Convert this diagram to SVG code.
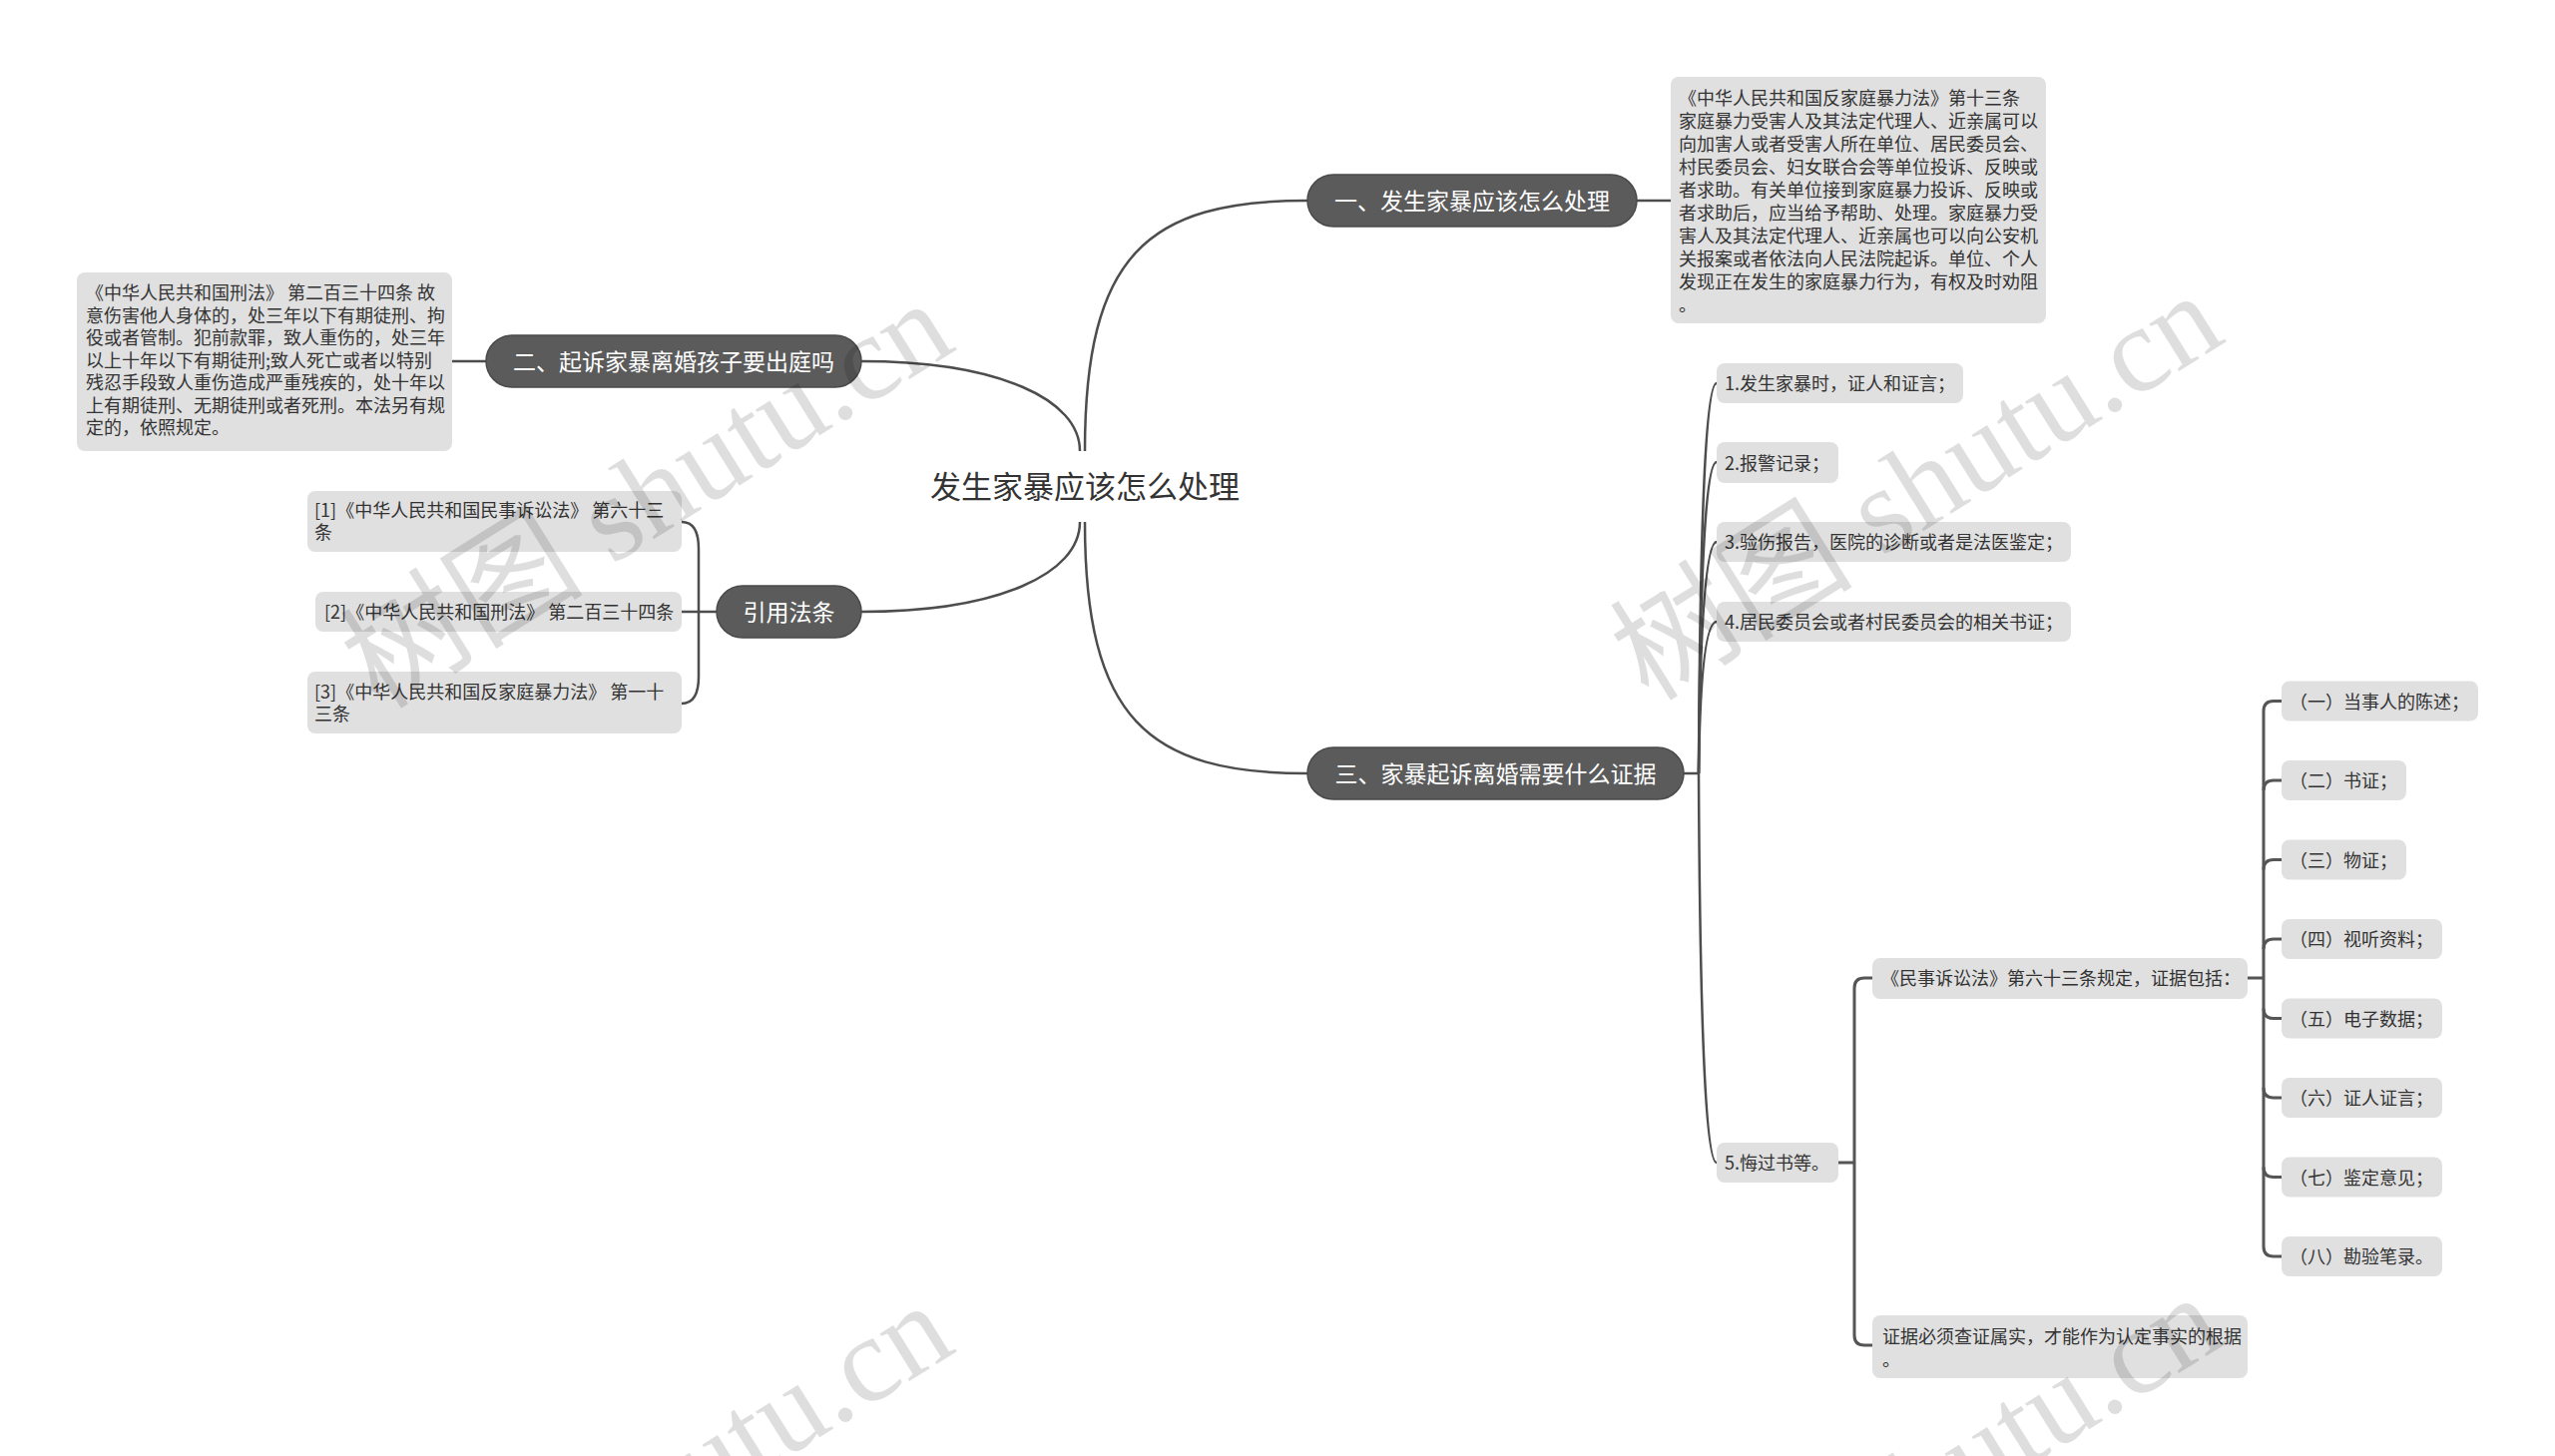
<svg xmlns="http://www.w3.org/2000/svg" width="2560" height="1459" viewBox="0 0 2560 1459">
<style>
text{font-family:"Noto Sans CJK SC","Liberation Sans",sans-serif}
.pill{fill:#5b5b5b;stroke:#4a4a4a;stroke-width:1.5}
.pt{fill:#ffffff;font-size:23px;text-anchor:middle}
.box{fill:#e0e0e0}
.bt{fill:#333333;font-size:18px}
.title{fill:#333333;font-size:31px;text-anchor:middle}
.c{fill:none;stroke:#4d4d4d;stroke-width:2.5}
.b{fill:none;stroke:#555555;stroke-width:3}
.wm{font-family:"Liberation Serif","Noto Sans CJK SC",serif;font-size:122px;fill:#000000;fill-opacity:0.13}
</style>
<rect width="2560" height="1459" fill="#ffffff"/>
<g id="connectors">
<path class="c" d="M1087 452 C1087 255 1150 201 1310 201"/>
<path class="c" d="M1082 452 C1082 400 1000 362 863 362"/>
<path class="c" d="M1082 523 C1082 575 1000 613 863 613"/>
<path class="c" d="M1087 523 C1087 720 1150 775 1310 775"/>
<path class="c" d="M1640 201 L1674 201"/>
<path class="c" d="M487 362 L453 362"/>
<path class="c" d="M1687 775 L1702 775"/>
<path class="c" d="M718 613 L683 613"/>
<path class="c" stroke-width="2" d="M683 523 Q700 523 700 550 L700 678 Q700 705 683 705"/>
<path class="c" d="M1702 775 Q1704 384 1720 384"/>
<path class="c" d="M1702 775 Q1704 463 1720 463"/>
<path class="c" d="M1702 775 Q1704 543 1720 543"/>
<path class="c" d="M1702 775 Q1704 623 1720 623"/>
<path class="c" d="M1702 775 Q1704 1165 1720 1165"/>
<path class="b" d="M1842 1165 L1858 1165"/>
<path class="b" d="M1876 980 L1868 980 Q1858 980 1858 990 L1858 1338 Q1858 1348 1868 1348 L1876 1348"/>
<path class="b" d="M2252 980 L2268 980"/>
<path class="b" d="M2286 702.5 L2278 702.5 Q2268 702.5 2268 712.5 L2268 1249 Q2268 1259 2278 1259 L2286 1259"/>
<path class="b" d="M2268 792 Q2268 782 2278 782 L2286 782"/>
<path class="b" d="M2268 871.5 Q2268 861.5 2278 861.5 L2286 861.5"/>
<path class="b" d="M2268 951 Q2268 941 2278 941 L2286 941"/>
<path class="b" d="M2268 1010.5 Q2268 1020.5 2278 1020.5 L2286 1020.5"/>
<path class="b" d="M2268 1090 Q2268 1100 2278 1100 L2286 1100"/>
<path class="b" d="M2268 1169.5 Q2268 1179.5 2278 1179.5 L2286 1179.5"/>
</g>
<g id="root"><text class="title" x="1087" y="499">发生家暴应该怎么处理</text></g>
<g id="n1"><rect class="pill" x="1310" y="175" width="330" height="52" rx="26"/><text class="pt" x="1475" y="209.5">一、发生家暴应该怎么处理</text></g>
<g id="n1-text"><rect class="box" x="1674" y="77" width="376" height="247" rx="8"/>
<text class="bt" x="1682">
<tspan x="1682" y="105">《中华人民共和国反家庭暴力法》第十三条</tspan>
<tspan x="1682" y="128">家庭暴力受害人及其法定代理人、近亲属可以</tspan>
<tspan x="1682" y="151">向加害人或者受害人所在单位、居民委员会、</tspan>
<tspan x="1682" y="174">村民委员会、妇女联合会等单位投诉、反映或</tspan>
<tspan x="1682" y="197">者求助。有关单位接到家庭暴力投诉、反映或</tspan>
<tspan x="1682" y="220">者求助后，应当给予帮助、处理。家庭暴力受</tspan>
<tspan x="1682" y="243">害人及其法定代理人、近亲属也可以向公安机</tspan>
<tspan x="1682" y="266">关报案或者依法向人民法院起诉。单位、个人</tspan>
<tspan x="1682" y="289">发现正在发生的家庭暴力行为，有权及时劝阻</tspan>
<tspan x="1682" y="312">。</tspan>
</text></g>
<g id="n2"><rect class="pill" x="487" y="336" width="376" height="52" rx="26"/><text class="pt" x="675" y="370.5">二、起诉家暴离婚孩子要出庭吗</text></g>
<g id="n2-text"><rect class="box" x="77" y="273" width="376" height="179" rx="8"/>
<text class="bt">
<tspan x="86" y="300">《中华人民共和国刑法》 第二百三十四条 故</tspan>
<tspan x="86" y="322.5">意伤害他人身体的，处三年以下有期徒刑、拘</tspan>
<tspan x="86" y="345">役或者管制。犯前款罪，致人重伤的，处三年</tspan>
<tspan x="86" y="367.5">以上十年以下有期徒刑;致人死亡或者以特别</tspan>
<tspan x="86" y="390">残忍手段致人重伤造成严重残疾的，处十年以</tspan>
<tspan x="86" y="412.5">上有期徒刑、无期徒刑或者死刑。本法另有规</tspan>
<tspan x="86" y="435">定的，依照规定。</tspan>
</text></g>
<g id="n4"><rect class="pill" x="718" y="587" width="145" height="52" rx="26"/><text class="pt" x="790.5" y="621.5">引用法条</text></g>
<g id="ref1"><rect class="box" x="308" y="492" width="375" height="61" rx="8"/><text class="bt"><tspan x="315" y="518">[1]《中华人民共和国民事诉讼法》 第六十三</tspan><tspan x="315" y="540">条</tspan></text></g>
<g id="ref2"><rect class="box" x="316" y="593" width="367" height="40" rx="8"/><text class="bt" x="325" y="620">[2]《中华人民共和国刑法》 第二百三十四条</text></g>
<g id="ref3"><rect class="box" x="308" y="673" width="375" height="62" rx="8"/><text class="bt"><tspan x="315" y="700">[3]《中华人民共和国反家庭暴力法》 第一十</tspan><tspan x="315" y="722">三条</tspan></text></g>
<g id="n3"><rect class="pill" x="1310" y="749" width="377" height="52" rx="26"/><text class="pt" x="1498.5" y="783.5">三、家暴起诉离婚需要什么证据</text></g>
<g id="e1"><rect class="box" x="1720" y="364" width="247" height="40" rx="8"/><text class="bt" x="1728" y="391">1.发生家暴时，证人和证言；</text></g>
<g id="e2"><rect class="box" x="1720" y="443" width="122" height="41" rx="8"/><text class="bt" x="1728" y="470.5">2.报警记录；</text></g>
<g id="e3"><rect class="box" x="1720" y="523" width="355" height="40" rx="8"/><text class="bt" x="1728" y="550">3.验伤报告，医院的诊断或者是法医鉴定；</text></g>
<g id="e4"><rect class="box" x="1720" y="603" width="355" height="40" rx="8"/><text class="bt" x="1728" y="630">4.居民委员会或者村民委员会的相关书证；</text></g>
<g id="e5"><rect class="box" x="1720" y="1145" width="122" height="40" rx="8"/><text class="bt" x="1728" y="1172">5.悔过书等。</text></g>
<g id="e5a"><rect class="box" x="1876" y="960" width="376" height="41" rx="8"/><text class="bt" x="1885" y="987">《民事诉讼法》第六十三条规定，证据包括：</text></g>
<g id="e5b"><rect class="box" x="1876" y="1318" width="376" height="63" rx="8"/><text class="bt"><tspan x="1886" y="1346">证据必须查证属实，才能作为认定事实的根据</tspan><tspan x="1886" y="1369">。</tspan></text></g>
<g id="k1"><rect class="box" x="2286" y="682.5" width="197" height="40" rx="8"/><text class="bt" x="2294" y="709.5">（一）当事人的陈述；</text></g>
<g id="k2"><rect class="box" x="2286" y="762" width="125" height="40" rx="8"/><text class="bt" x="2294" y="789">（二）书证；</text></g>
<g id="k3"><rect class="box" x="2286" y="841.5" width="125" height="40" rx="8"/><text class="bt" x="2294" y="868.5">（三）物证；</text></g>
<g id="k4"><rect class="box" x="2286" y="921" width="161" height="40" rx="8"/><text class="bt" x="2294" y="948">（四）视听资料；</text></g>
<g id="k5"><rect class="box" x="2286" y="1000.5" width="161" height="40" rx="8"/><text class="bt" x="2294" y="1027.5">（五）电子数据；</text></g>
<g id="k6"><rect class="box" x="2286" y="1080" width="161" height="40" rx="8"/><text class="bt" x="2294" y="1107">（六）证人证言；</text></g>
<g id="k7"><rect class="box" x="2286" y="1159.5" width="161" height="40" rx="8"/><text class="bt" x="2294" y="1186.5">（七）鉴定意见；</text></g>
<g id="k8"><rect class="box" x="2286" y="1239" width="161" height="40" rx="8"/><text class="bt" x="2294" y="1266">（八）勘验笔录。</text></g>
<g id="watermark">
<text class="wm" transform="translate(380 712) rotate(-32)">树图 shutu.cn</text>
<text class="wm" transform="translate(1652 704) rotate(-32)">树图 shutu.cn</text>
<text class="wm" transform="translate(380 1716) rotate(-32)">树图 shutu.cn</text>
<text class="wm" transform="translate(1652 1708) rotate(-32)">树图 shutu.cn</text>
</g>
</svg>
